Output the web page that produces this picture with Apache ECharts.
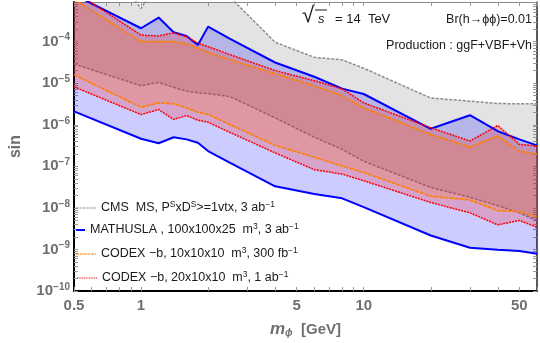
<!DOCTYPE html>
<html lang="en">
<head>
<meta charset="utf-8"/>
<title>sin vs m_phi</title>
<script src="https://cdn.jsdelivr.net/npm/echarts@6/dist/echarts.min.js"></script>
<style>
    html, body { margin: 0; padding: 0; background: #fff; }
    #chart { width: 540px; height: 343px; }
</style>
</head>
<body>
<div id="chart"></div>
<script>
// masses (GeV) where the curves are sampled
var mass = [0.5, 1, 1.2, 1.4, 1.6, 1.8, 2, 2.5, 4, 6, 8, 10, 20, 30, 40, 50, 60];

// CMS MS band
var cmsUp = [0.1, 6.3e-4, 3e-3, 3e-3, 3e-3, 3e-3, 3e-3, 1.2e-3, 9.7e-5, 4.2e-5, 3.65e-5, 2.3e-5, 4.4e-6, 3.7e-6, 3.25e-6, 3.2e-6, 3.2e-6];
var cmsLo = [2.9e-5, 8.7e-6, 1.04e-5, 8.0e-6, 6.4e-6, 5.9e-6, 5.6e-6, 4.8e-6, 1.47e-6, 5.0e-7, 2.56e-7, 1.32e-7, 3.1e-8, 1.8e-8, 1.13e-8, 7.6e-9, 4.9e-9];
// MATHUSLA band
var mathUp = [1.35e-3, 2.1e-4, 3.8e-4, 1.68e-4, 1.37e-4, 8.3e-5, 2.3e-4, 1.19e-4, 3.15e-5, 1.43e-5, 7.4e-6, 5.5e-6, 8.0e-7, 1.7e-6, 7.0e-7, 4.45e-7, 3.2e-7];
var mathLo = [2.1e-6, 4.6e-7, 3.6e-7, 5.0e-7, 4.45e-7, 3.7e-7, 2.33e-7, 1.23e-7, 3.3e-8, 2.15e-8, 1.7e-8, 1.04e-8, 2.16e-9, 1.1e-9, 9.8e-10, 9.2e-10, 7.9e-10];
// CODEX-b 300 fb-1 band
var codex300Up = [1.05e-3, 1.0e-4, 1.0e-4, 1.0e-4, 8.8e-5, 6.95e-5, 5.46e-5, 3.7e-5, 1.69e-5, 8.7e-6, 5.0e-6, 2.55e-6, 5.86e-7, 2.91e-7, 5.33e-7, 2.33e-7, 1.95e-7];
var codex300Lo = [1.6e-5, 2.64e-6, 3.36e-6, 3.18e-6, 2.55e-6, 2.0e-6, 1.76e-6, 1.02e-6, 3.2e-7, 1.65e-7, 1.02e-7, 7.1e-8, 1.9e-8, 1.55e-8, 8.6e-9, 8.1e-9, 5.96e-9];
// CODEX-b 1 ab-1 band
var codex1Up = [1.63e-3, 1.44e-4, 1.37e-4, 1.64e-4, 1.32e-4, 9.2e-5, 7.6e-5, 4.9e-5, 2.02e-5, 1.15e-5, 7.3e-6, 3.36e-6, 8.5e-7, 4.06e-7, 9.6e-7, 3.38e-7, 3.08e-7];
var codex1Lo = [8.2e-6, 1.76e-6, 2.32e-6, 1.34e-6, 1.67e-6, 1.29e-6, 1.15e-6, 6.6e-7, 2.11e-7, 8.3e-8, 6.5e-8, 4.5e-8, 1.35e-8, 7.6e-9, 3.9e-9, 5.0e-9, 3.4e-9];

// tick labels
var xTickLabels = [0.5, 1, 5, 10, 50];
var yTickLabels = [1e-10, 1e-9, 1e-8, 1e-7, 1e-6, 1e-5, 1e-4];

// tick marks at 1..9 x 10^n
var xTicks = [], yTicks = [];
for (var d = -1; d <= 1; d++) {
    for (var k = 1; k <= 9; k++) xTicks.push(+(k * Math.pow(10, d)).toPrecision(3));
}
for (var d2 = -10; d2 <= -4; d2++) {
    for (var k2 = 1; k2 <= 9; k2++) yTicks.push(+(k2 * Math.pow(10, d2)).toPrecision(3));
}

var grey = '#6f6f6f';
var font = '"Liberation Sans", Arial, sans-serif';

var chart = echarts.init(document.getElementById('chart'));

function pairs(ys) {
    var out = [];
    for (var i = 0; i < mass.length; i++) out.push([mass[i], ys[i]]);
    return out;
}

// filled region between two curves, drawn through the axes' own scales
function bandSeries(up, lo, fill, z) {
    var pts = pairs(up);
    for (var j = mass.length - 1; j >= 0; j--) pts.push([mass[j], lo[j]]);
    return {
        type: 'custom',
        clip: true,
        silent: true,
        z: z,
        data: pts,
        renderItem: function (params, api) {
            if (params.dataIndex !== 0) return null;
            var poly = [];
            for (var i = 0; i < pts.length; i++) poly.push(api.coord(pts[i]));
            return { type: 'polygon', shape: { points: poly }, style: { fill: fill } };
        }
    };
}

function lineSeries(name, ys, color, width, dash, z) {
    return {
        type: 'line',
        name: name,
        data: pairs(ys),
        symbol: 'none',
        clip: true,
        silent: true,
        z: z,
        lineStyle: { color: color, width: width, type: dash },
        itemStyle: { color: color }
    };
}

// legend sample: a strip of dashes (dash, gap) over a given length
function dashIcon(total, dash, gap) {
    var p = 'path://';
    for (var x = 0; x < total; x += dash + gap) {
        var w = Math.min(dash, total - x);
        p += 'M' + x + ',0h' + w + 'v1h-' + w + 'z';
    }
    return p;
}

var legendNames = {
    CMS: 'CMS  MS, P{sup|S}xD{sup|S}>=1vtx, 3 ab{sup|\u22121}',
    MATHUSLA: 'MATHUSLA , 100x100x25  m{sup|3}, 3 ab{sup|\u22121}',
    CODEX300: 'CODEX \u2212b, 10x10x10  m{sup|3}, 300 fb{sup|\u22121}',
    CODEX1: 'CODEX \u2212b, 20x10x10  m{sup|3}, 1 ab{sup|\u22121}'
};

function legendAt(name, left, top, w, h, icon) {
    return {
        data: [{ name: name, icon: icon }],
        left: left,
        top: top,
        padding: 0,
        itemWidth: w,
        itemHeight: h,
        itemGap: 0,
        selectedMode: false,
        formatter: function (n) { return legendNames[n]; },
        textStyle: {
            fontFamily: font,
            fontSize: 12.5,
            color: '#1a1a1a',
            lineHeight: 16,
            rich: { sup: { fontSize: 8.5, lineHeight: 6, verticalAlign: 'top', fontFamily: font, color: '#1a1a1a' } }
        }
    };
}

var option = {
    animation: false,
    backgroundColor: '#fff',
    grid: { left: 66, right: 3, top: 2, bottom: 50.5 },
    legend: [
        legendAt('CMS', 76, 200, 20, 1.5, dashIcon(20, 2.5, 1)),
        legendAt('MATHUSLA', 76, 222, 9, 2, 'rect'),
        legendAt('CODEX300', 76, 246, 20, 1.5, dashIcon(20, 3, 0.8)),
        legendAt('CODEX1', 77, 270, 20, 1.5, dashIcon(20, 1, 0.7))
    ],
    xAxis: [{
        type: 'log',
        min: 0.5,
        max: 60,
        position: 'bottom',
        name: '{m|m}{s|\u03d5}  [GeV]',
        nameLocation: 'middle',
        nameGap: 30,
        nameTextStyle: {
            color: grey, fontFamily: font, fontSize: 15, fontWeight: 'bold',
            rich: {
                m: { fontStyle: 'italic', fontSize: 17, color: grey, fontFamily: font, fontWeight: 'bold' },
                s: { fontStyle: 'italic', fontSize: 10, color: grey, fontFamily: font, verticalAlign: 'bottom', lineHeight: 12 }
            }
        },
        axisLine: { show: true, lineStyle: { color: '#000', width: 2 } },
        axisTick: { show: true, inside: true, length: 4, customValues: xTicks, lineStyle: { color: '#999' } },
        axisLabel: {
            customValues: xTickLabels,
            formatter: function (v) { return String(+v.toPrecision(3)); },
            color: grey, fontFamily: font, fontSize: 15, fontWeight: 'bold', margin: 7
        },
        splitLine: { show: false }
    }, {
        type: 'log',
        min: 0.5,
        max: 60,
        position: 'top',
        axisLine: { show: true, lineStyle: { color: '#888', width: 1 } },
        axisTick: { show: true, inside: true, length: 4, customValues: xTicks, lineStyle: { color: '#999' } },
        axisLabel: { show: false },
        splitLine: { show: false }
    }],
    yAxis: [{
        type: 'log',
        min: 1e-10,
        max: 9e-4,
        position: 'left',
        name: 'sin',
        nameLocation: 'middle',
        nameGap: 50,
        nameRotate: 90,
        nameTextStyle: { color: grey, fontFamily: font, fontSize: 16, fontWeight: 'bold' },
        axisLine: { show: true, lineStyle: { color: '#000', width: 2 } },
        axisTick: { show: true, inside: true, length: 4, customValues: yTicks, lineStyle: { color: '#999' } },
        axisLabel: {
            customValues: yTickLabels,
            formatter: function (v) {
                var e = Math.round(Math.log(v) / Math.LN10);
                return '{b|10}{e|' + (e < 0 ? '\u2212' : '') + Math.abs(e) + '}';
            },
            margin: 4,
            rich: {
                b: { fontSize: 15, fontWeight: 'bold', color: grey, fontFamily: font, lineHeight: 18 },
                e: { fontSize: 10, fontWeight: 'bold', color: grey, fontFamily: font, lineHeight: 8, verticalAlign: 'top' }
            }
        },
        splitLine: { show: false }
    }, {
        type: 'log',
        min: 1e-10,
        max: 9e-4,
        position: 'right',
        axisLine: { show: true, lineStyle: { color: '#222', width: 1.5 } },
        axisTick: { show: true, inside: true, length: 4, customValues: yTicks, lineStyle: { color: '#999' } },
        axisLabel: { show: false },
        splitLine: { show: false }
    }],
    graphic: [
        { type: 'text', left: 302, top: 5, style: { text: '\u221a', font: '22px ' + font, fill: '#1a1a1a' } },
        { type: 'line', shape: { x1: 315, y1: 10, x2: 327, y2: 10 }, style: { stroke: '#1a1a1a', lineWidth: 1 } },
        { type: 'text', left: 318, top: 13, style: { text: 's', font: 'italic 13px ' + font, fill: '#1a1a1a' } },
        { type: 'text', left: 335, top: 13, style: { text: '= 14  TeV', font: '13px ' + font, fill: '#1a1a1a' } },
        { type: 'text', right: 8, top: 13, style: { text: 'Br(h\u2192\u03d5\u03d5)=0.01', font: '12.5px ' + font, fill: '#1a1a1a' } },
        { type: 'text', right: 8, top: 39, style: { text: 'Production : ggF+VBF+Vh', font: '12.5px ' + font, fill: '#1a1a1a' } }
    ],
    series: [
        bandSeries(cmsUp, cmsLo, 'rgba(128,128,128,0.22)', 1),
        lineSeries('CMS', cmsUp, '#8c8c8c', 1.5, [3, 1.5], 2),
        lineSeries('CMS', cmsLo, '#8c8c8c', 1.5, [3, 1.5], 2),
        bandSeries(mathUp, mathLo, 'rgba(0,0,255,0.2)', 3),
        bandSeries(codex300Up, codex300Lo, 'rgba(255,128,0,0.2)', 3),
        bandSeries(codex1Up, codex1Lo, 'rgba(255,0,0,0.2)', 3),
        lineSeries('MATHUSLA', mathUp, '#0000ff', 2, 'solid', 4),
        lineSeries('MATHUSLA', mathLo, '#0000ff', 2, 'solid', 4),
        lineSeries('CODEX300', codex300Up, '#ff8000', 1.6, [4, 1], 5),
        lineSeries('CODEX300', codex300Lo, '#ff8000', 1.6, [4, 1], 5),
        lineSeries('CODEX1', codex1Up, '#ff0000', 1.5, [2, 1], 6),
        lineSeries('CODEX1', codex1Lo, '#ff0000', 1.5, [2, 1], 6)
    ]
};

chart.setOption(option);
</script>
</body>
</html>
